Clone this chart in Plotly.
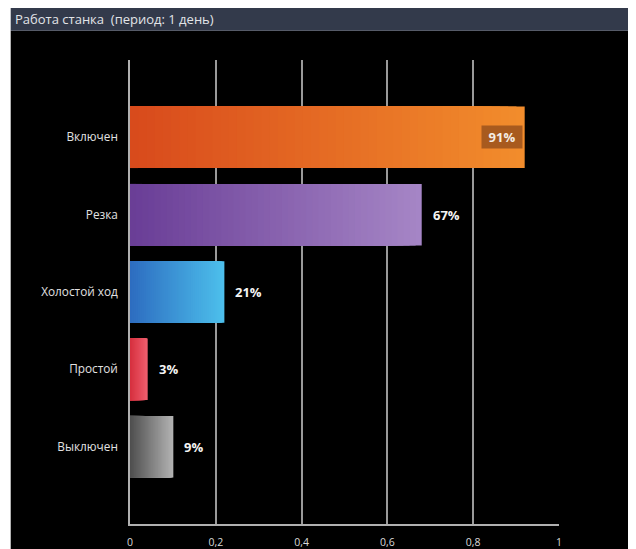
import plotly.graph_objects as go

# ---- data ----
categories = ["Включен", "Резка", "Холостой ход", "Простой", "Выключен"]
values = [0.92, 0.68, 0.22, 0.041, 0.101]
labels = ["91%", "67%", "21%", "3%", "9%"]
colors_left = ["#d84a1c", "#693d96", "#2d6cc0", "#d6303e", "#4e4e4e"]
colors_right = ["#f28d2c", "#a686c6", "#4dc0ec", "#f06070", "#b4b4b4"]
x_ticks = [0, 0.2, 0.4, 0.6, 0.8, 1]
title_text = "Работа станка \u00a0(период: 1 день)"

# ---- layout geometry (pixels, figure coordinates; page adds an 8px body margin) ----
W, H = 640, 541
L, R, T, B = 122, 89, 52, 25
PW, PH = W - L - R, H - T - B
FONT = "Open Sans"


def hex2rgb(h):
    h = h.lstrip("#")
    return [int(h[i:i + 2], 16) for i in (0, 2, 4)]


def mix(c1, c2, t):
    a, b = hex2rgb(c1), hex2rgb(c2)
    return "rgb(%d,%d,%d)" % tuple(round(a[i] + (b[i] - a[i]) * t) for i in range(3))


def px_x(px):
    return (px - L) / PW


def px_y(py):
    return (H - B - py) / PH


fig = go.Figure()

# gradient bars: overlapping bars, longest (rightmost colour) first
N = 48
for k in range(N, 0, -1):
    t = (k - 0.5) / N
    fig.add_trace(go.Bar(
        y=categories,
        x=[v * k / N for v in values],
        orientation="h",
        width=0.795,
        marker=dict(color=[mix(colors_left[i], colors_right[i], t) for i in range(len(values))],
                    line=dict(width=0)),
        hoverinfo="skip",
        showlegend=False,
    ))

annotations = []
for cat, v, lab in zip(categories, values, labels):
    if v + 0.1 > x_ticks[-1]:
        annotations.append(dict(
            x=v, y=cat, xref="x", yref="y", text="<b>%s</b>" % lab,
            showarrow=False, xanchor="right", xshift=-2,
            font=dict(family=FONT, size=13, color="#f4ece4"),
            bgcolor="rgb(168,90,30)", width=38, height=20, borderpad=1,
        ))
    else:
        annotations.append(dict(
            x=v, y=cat, xref="x", yref="y", text="<b>%s</b>" % lab,
            showarrow=False, xanchor="left", xshift=9,
            font=dict(family=FONT, size=13, color="#f4f4f4"),
        ))

annotations.append(dict(
    x=px_x(5), y=px_y(11.5), xref="paper", yref="paper",
    text=title_text, showarrow=False, xanchor="left", yanchor="middle",
    font=dict(family=FONT, size=13, color="#e2e4e8"),
))

shapes = [
    dict(type="rect", xref="paper", yref="paper", layer="below",
         x0=px_x(2.7), x1=px_x(W + 2), y0=px_y(H + 2), y1=px_y(22.7),
         fillcolor="#000000", line=dict(width=0)),
    dict(type="rect", xref="paper", yref="paper", layer="below",
         x0=px_x(2.7), x1=px_x(W + 2), y0=px_y(22.7), y1=px_y(0),
         fillcolor="#333a4b", line=dict(width=0)),
]

fig.update_layout(
    width=W, height=H,
    autosize=False,
    margin=dict(l=L, r=R, t=T, b=B, pad=0, autoexpand=False),
    paper_bgcolor="#ffffff",
    plot_bgcolor="#000000",
    barmode="overlay",
    separators=", ",
    font=dict(family=FONT),
    shapes=shapes,
    annotations=annotations,
    xaxis=dict(
        range=[0, 1], tickvals=x_ticks, tickformat=".1~f",
        showgrid=True, gridcolor="#9a9a9a", gridwidth=1.5,
        showline=True, linecolor="#b0b0b0", linewidth=1.5,
        zeroline=False, ticks="", ticklabelstandoff=8,
        tickfont=dict(family=FONT, size=10.5, color="#d8d8d8"),
        fixedrange=True, automargin=False,
    ),
    yaxis=dict(
        type="category", categoryorder="array", categoryarray=categories,
        range=[len(categories), -1],
        showgrid=False, showline=True, linecolor="#b0b0b0", linewidth=1.5,
        zeroline=False, ticks="", ticklabelstandoff=8,
        tickfont=dict(family=FONT, size=11.8, color="#e2e2e2"),
        fixedrange=True, automargin=False,
    ),
    showlegend=False,
)

fig.write_html("out.html")
